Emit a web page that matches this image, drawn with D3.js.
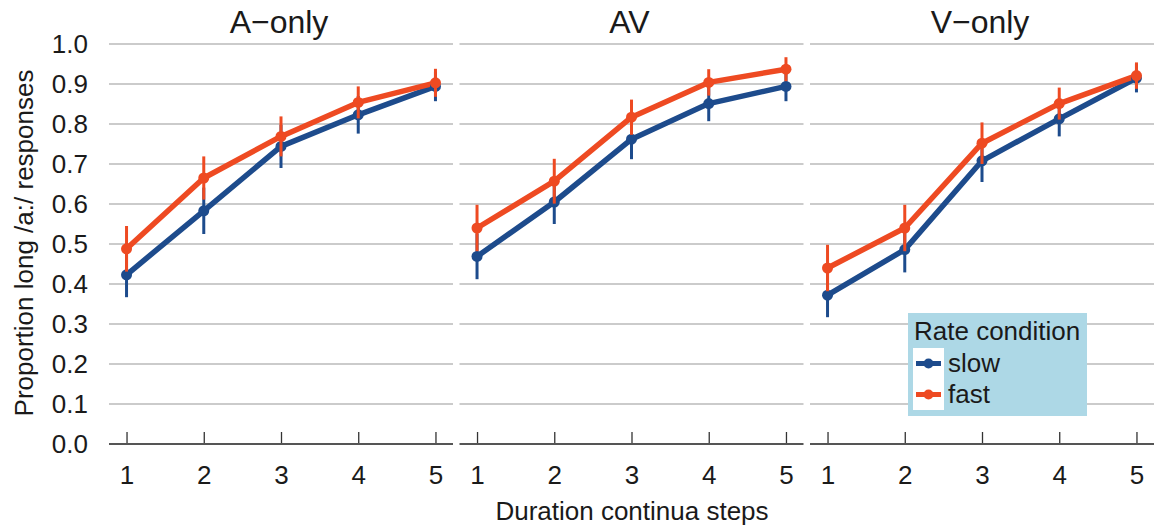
<!DOCTYPE html>
<html>
<head>
<meta charset="utf-8">
<script src="https://cdn.jsdelivr.net/npm/d3@7"></script>
<style>
  html, body { margin: 0; padding: 0; background: #fff; }
  text { font-family: "Liberation Sans", Arial, Helvetica, sans-serif; fill: #1a1a1a; }
</style>
</head>
<body>
<svg id="chart" width="1162" height="530"></svg>
<script>
// ---- data ----
const steps = [1, 2, 3, 4, 5];
const panelTitles = ["A\u2212only", "AV", "V\u2212only"];
const seriesNames = ["slow", "fast"];
const yTicks = [0, 0.1, 0.2, 0.3, 0.4, 0.5, 0.6, 0.7, 0.8, 0.9, 1.0];

const slowAonly = [0.423, 0.583, 0.744, 0.823, 0.894];
const fastAonly = [0.488, 0.665, 0.769, 0.854, 0.903];
const slowAV    = [0.469, 0.605, 0.762, 0.851, 0.894];
const fastAV    = [0.540, 0.657, 0.817, 0.904, 0.937];
const slowVonly = [0.372, 0.486, 0.708, 0.813, 0.915];
const fastVonly = [0.440, 0.540, 0.752, 0.851, 0.921];

const slowErrAonly = [0.056, 0.058, 0.054, 0.047, 0.037];
const fastErrAonly = [0.057, 0.054, 0.050, 0.040, 0.035];
const slowErrAV    = [0.057, 0.055, 0.050, 0.044, 0.037];
const fastErrAV    = [0.058, 0.056, 0.044, 0.033, 0.030];
const slowErrVonly = [0.055, 0.057, 0.053, 0.044, 0.036];
const fastErrVonly = [0.058, 0.058, 0.052, 0.040, 0.033];

const colors = { slow: "#1d4b8c", fast: "#ee4a22" };

const panelData = [
  { title: panelTitles[0], slow: slowAonly, fast: fastAonly, slowErr: slowErrAonly, fastErr: fastErrAonly },
  { title: panelTitles[1], slow: slowAV,    fast: fastAV,    slowErr: slowErrAV,    fastErr: fastErrAV },
  { title: panelTitles[2], slow: slowVonly, fast: fastVonly, slowErr: slowErrVonly, fastErr: fastErrVonly }
];

// ---- layout ----
const svg = d3.select("#chart");
const panelLefts = [109, 459.5, 810];
const panelW = 344;
const yTop = 44, yBot = 444;

const y = d3.scaleLinear().domain([0, 1]).range([yBot, yTop]);
const x = d3.scalePoint().domain(steps).range([0, panelW]).padding(0.227);

// y tick labels
const yAxisG = svg.append("g");
yAxisG.selectAll("text").data(yTicks).join("text")
  .attr("x", 88).attr("y", d => y(d))
  .attr("dy", "0.35em")
  .attr("text-anchor", "end")
  .attr("font-size", 26)
  .text(d => d3.format(".1f")(d));

// y axis title
svg.append("text")
  .attr("transform", `translate(33, ${(yTop + yBot) / 2 - 1}) rotate(-90)`)
  .attr("text-anchor", "middle")
  .attr("font-size", 26)
  .text("Proportion long /a:/ responses");

// x axis title
svg.append("text")
  .attr("x", 632).attr("y", 520)
  .attr("text-anchor", "middle")
  .attr("font-size", 26)
  .text("Duration continua steps");

const line = d3.line().x(d => x(d.step)).y(d => y(d.v));

panelData.forEach((p, i) => {
  const g = svg.append("g").attr("transform", `translate(${panelLefts[i]},0)`);

  // gridlines
  g.selectAll("line.grid").data(yTicks.filter(t => t > 0)).join("line")
    .attr("class", "grid")
    .attr("x1", 0).attr("x2", panelW)
    .attr("y1", d => y(d)).attr("y2", d => y(d))
    .attr("stroke", "#cbcbcb").attr("stroke-width", 2);

  // bottom axis
  const ax = g.append("g").attr("transform", `translate(0,${yBot})`)
    .call(d3.axisBottom(x).tickSize(-12).tickPadding(0).tickFormat(""));
  ax.select(".domain").remove();
  ax.selectAll(".tick line").attr("stroke", "#333").attr("stroke-width", 1.3);
  ax.selectAll(".tick").append("text")
    .attr("y", 40)
    .attr("text-anchor", "middle")
    .attr("font-size", 26)
    .attr("fill", "#1a1a1a")
    .text(d => d);
  g.append("line")
    .attr("x1", 0).attr("x2", panelW)
    .attr("y1", yBot).attr("y2", yBot)
    .attr("stroke", "#555").attr("stroke-width", 2.2);

  // title
  g.append("text")
    .attr("x", panelW / 2 - 2).attr("y", 33)
    .attr("text-anchor", "middle")
    .attr("font-size", 32)
    .text(p.title);

  // series
  seriesNames.forEach(s => {
    const pts = steps.map((st, k) => ({ step: st, v: p[s][k], e: p[s + "Err"][k] }));
    g.append("path").datum(pts)
      .attr("d", line)
      .attr("fill", "none")
      .attr("stroke", colors[s])
      .attr("stroke-width", 5.5)
      .attr("stroke-linejoin", "round");
  });
  seriesNames.forEach(s => {
    const pts = steps.map((st, k) => ({ step: st, v: p[s][k], e: p[s + "Err"][k] }));
    g.selectAll(null).data(pts).join("line")
      .attr("x1", d => x(d.step)).attr("x2", d => x(d.step))
      .attr("y1", d => y(d.v - d.e)).attr("y2", d => y(d.v + d.e))
      .attr("stroke", colors[s]).attr("stroke-width", 3);
    g.selectAll(null).data(pts).join("circle")
      .attr("cx", d => x(d.step)).attr("cy", d => y(d.v))
      .attr("r", 5.5)
      .attr("fill", colors[s]);
  });
});

// legend
const lg = svg.append("g").attr("transform", "translate(908,313)");
lg.append("rect").attr("width", 179).attr("height", 103).attr("fill", "#add8e6");
lg.append("text").attr("x", 6).attr("y", 27).attr("font-size", 26).text("Rate condition");
seriesNames.forEach((s, i) => {
  const ky = 35 + i * 31;
  lg.append("rect").attr("x", 5).attr("y", ky).attr("width", 31).attr("height", 31).attr("fill", "#fff");
  lg.append("line").attr("x1", 8).attr("x2", 33).attr("y1", ky + 15.5).attr("y2", ky + 15.5)
    .attr("stroke", colors[s]).attr("stroke-width", 5);
  lg.append("circle").attr("cx", 20.5).attr("cy", ky + 15.5).attr("r", 5).attr("fill", colors[s]);
  lg.append("text").attr("x", 40).attr("y", ky + 24).attr("font-size", 26).text(s);
});
</script>
</body>
</html>
